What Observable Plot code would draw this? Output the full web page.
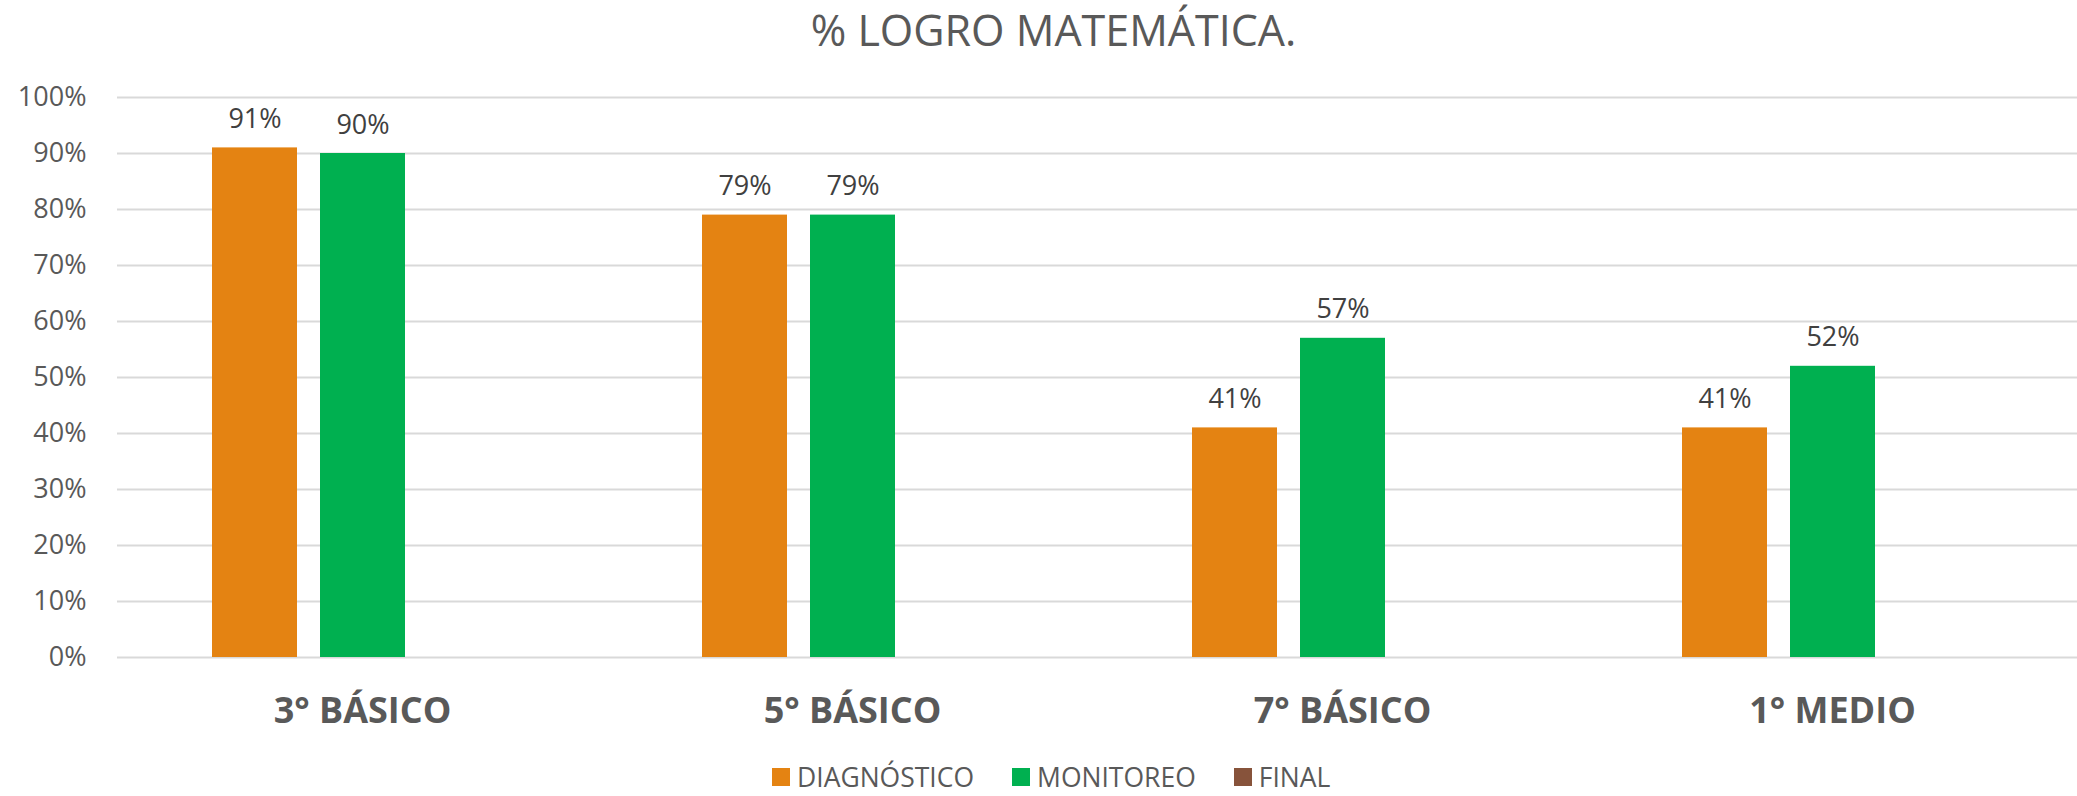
<!DOCTYPE html>
<html>
<head>
<meta charset="utf-8">
<script src="https://cdn.jsdelivr.net/npm/d3@7"></script>
<script src="https://cdn.jsdelivr.net/npm/@observablehq/plot@0.6"></script>
<style>
  body { margin: 0; background: #fff; font-family: "Open Sans", sans-serif; }
  #wrap { width: 2077px; height: 796px; overflow: hidden; background: #fff; }
  #title { height: 60px; line-height: 60px; font-size: 43px; color: #595959; text-align: center; padding-left: 30px; white-space: nowrap; }
  #chart svg { display: block; }
  #legend { display: flex; align-items: center; padding-left: 772px; padding-top: 9px; font-size: 26.5px; line-height: normal; color: #595959; white-space: nowrap; }
  .item { display: flex; align-items: center; margin-right: 38px; }
  .sw { width: 18px; height: 18px; margin-right: 7px; }
</style>
</head>
<body>
<div id="wrap">
  <div id="title">% LOGRO MATEMÁTICA.</div>
  <div id="chart"></div>
  <div id="legend"></div>
</div>
<script>
const categories = ["3° BÁSICO", "5° BÁSICO", "7° BÁSICO", "1° MEDIO"];
const series = ["DIAGNÓSTICO", "MONITOREO", "FINAL"];
const diagnostico = [0.91, 0.79, 0.41, 0.41];
const monitoreo = [0.90, 0.79, 0.57, 0.52];
const finalValues = [null, null, null, null];
const colors = ["#E48312", "#00B050", "#87533B"];
const yTicks = [0, 0.1, 0.2, 0.3, 0.4, 0.5, 0.6, 0.7, 0.8, 0.9, 1];

const seriesValues = [diagnostico, monitoreo, finalValues];
const rows = [];
series.forEach((s, i) => {
  categories.forEach((c, j) => {
    const v = seriesValues[i][j];
    if (v != null) rows.push({cat: c, series: s, value: v});
  });
});

const pct = d => `${Math.round(d * 100)}%`;

const chart = Plot.plot({
  width: 2077,
  height: 690,
  marginLeft: 117,
  marginRight: 0,
  marginTop: 37,
  marginBottom: 93,
  style: {fontFamily: "Open Sans, sans-serif", background: "white"},
  fx: {domain: categories, padding: 0, label: null, axis: null},
  x: {domain: series, paddingInner: 0.213, paddingOuter: 0.875, axis: null},
  y: {domain: [0, 1], axis: null},
  color: {domain: series, range: colors},
  marks: [
    Plot.gridY(yTicks, {stroke: "#d9d9d9", strokeOpacity: 1, strokeWidth: 2}),
    Plot.axisY(yTicks, {tickSize: 0, tickPadding: 31, tickFormat: pct, fontSize: 27, fill: "#595959", label: null}),
    Plot.axisFx({anchor: "bottom", tickSize: 0, tickPadding: 40, fontSize: 36, fontWeight: "bold", fill: "#595959", label: null}),
    Plot.barY(rows, {fx: "cat", x: "series", y: "value", fill: "series"}),
    Plot.text(rows, {fx: "cat", x: "series", y: "value", text: d => pct(d.value), dy: -20, lineAnchor: "bottom", fontSize: 27, fill: "#404040"})
  ]
});
document.getElementById("chart").appendChild(chart);

const legend = document.getElementById("legend");
series.forEach((s, i) => {
  const item = document.createElement("div");
  item.className = "item";
  const sw = document.createElement("div");
  sw.className = "sw";
  sw.style.background = colors[i];
  const label = document.createElement("span");
  label.textContent = s;
  item.appendChild(sw);
  item.appendChild(label);
  legend.appendChild(item);
});
</script>
</body>
</html>
